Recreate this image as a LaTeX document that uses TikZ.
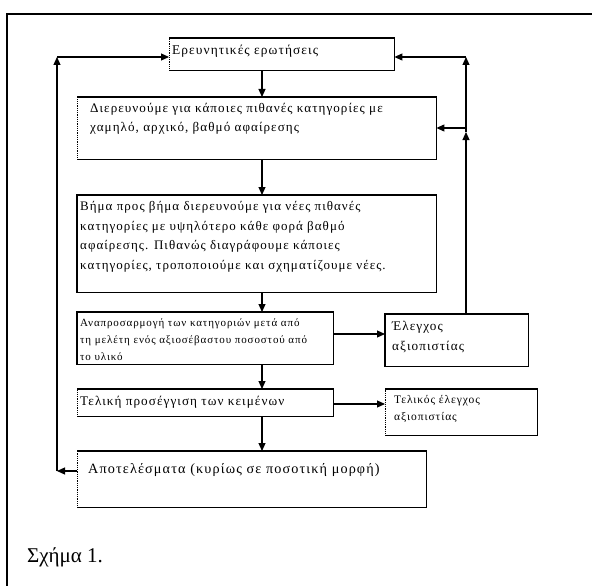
\documentclass[tikz,border=0pt]{standalone}
\usepackage{fontspec}
\setmainfont{Liberation Serif}
\newfontfamily\gr[LetterSpace=8]{Liberation Serif}
\usetikzlibrary{arrows.meta}
\tikzset{
  box/.style={draw=none, inner sep=0, anchor=north west},
  edge/.style={line width=1.1pt},
  arr/.style={line width=1.1pt, -{Triangle[length=8pt,width=7pt]}},
  txt/.style={inner sep=0, anchor=north west, align=left, font=\gr\fontsize{13}{21}\selectfont},
  smalltxt/.style={txt, font=\gr\fontsize{11}{17}\selectfont},
  bigtxt/.style={txt, font=\gr\fontsize{13.5}{20}\selectfont}
}
\newcommand{\solidbox}[1]{\draw[edge] (#1.north west) rectangle (#1.south east);}
\newcommand{\dotbox}[1]{\draw[edge] (#1.north west) -- (#1.north east) -- (#1.south east) -- (#1.south west); \draw[line width=0.8pt, densely dotted] (#1.south west) -- (#1.north west);}
\begin{document}
\begin{tikzpicture}[x=1pt,y=-1pt]
\useasboundingbox (0,0) rectangle (592,586);
% frame
\draw[line width=1.6pt] (7,586) -- (7,14) -- (592,14);
% boxes
\node[box, minimum width=225pt, minimum height=32pt] (q) at (169,38) {};
\node[box, minimum width=359pt, minimum height=62pt] (b2) at (77,97) {};
\node[box, minimum width=359pt, minimum height=97pt] (b3) at (77,195) {};
\node[box, minimum width=256pt, minimum height=52pt] (b4) at (77,312) {};
\node[box, minimum width=143pt, minimum height=52pt] (e1) at (385,314) {};
\node[box, minimum width=256pt, minimum height=27pt] (b5) at (77,389) {};
\node[box, minimum width=152pt, minimum height=46pt] (e2) at (385,389) {};
\node[box, minimum width=349pt, minimum height=56pt] (b6) at (77,451) {};
\dotbox{q}
\dotbox{b2}
\solidbox{b3}
\solidbox{b4}
\solidbox{e1}
\dotbox{b5}
\dotbox{e2}
\dotbox{b6}
% texts
\node[txt, font=\gr\fontsize{13.4}{20}\selectfont] (tq) at (172,45) {Ερευνητικές ερωτήσεις};
\node[txt, font=\gr\fontsize{13.1}{19}\selectfont] (t2) at (90,103) {Διερευνούμε για κάποιες πιθανές κατηγορίες με\\χαμηλό, αρχικό, βαθμό αφαίρεσης};
\node[txt, font=\gr\fontsize{13}{19.8}\selectfont] (t3) at (80,201) {Βήμα προς βήμα διερευνούμε για νέες πιθανές\\κατηγορίες με υψηλότερο κάθε φορά βαθμό\\αφαίρεσης. Πιθανώς διαγράφουμε κάποιες\\κατηγορίες, τροποποιούμε και σχηματίζουμε νέες.};
\node[smalltxt] (t4) at (80,319) {Αναπροσαρμογή των κατηγοριών μετά από\\τη μελέτη ενός αξιοσέβαστου ποσοστού από\\το υλικό};
\node[bigtxt, font=\gr\fontsize{13.2}{20}\selectfont] (te1) at (392,321) {Έλεγχος\\αξιοπιστίας};
\node[txt, font=\gr\fontsize{13.2}{20}\selectfont] (t5) at (80,396) {Τελική προσέγγιση των κειμένων};
\node[txt, font=\gr\fontsize{11.5}{17}\selectfont] (te2) at (394,395) {Τελικός έλεγχος\\αξιοπιστίας};
\node[txt, font=\gr\fontsize{14.2}{20}\selectfont] (t6) at (88,463) {Αποτελέσματα (κυρίως σε ποσοτική μορφή)};
\node[inner sep=0, anchor=west, font=\fontsize{21}{24}\selectfont] (cap) at (27,557) {Σχήμα 1.};
% connectors
\coordinate (cx) at (262,0);
\draw[arr] (q.south -| cx) -- (b2.north -| cx);
\draw[arr] (b2.south -| cx) -- (b3.north -| cx);
\draw[arr] (b3.south -| cx) -- (b4.north -| cx);
\draw[arr] (b4.south -| cx) -- (b5.north -| cx);
\draw[arr] (b5.south -| cx) -- (b6.north -| cx);
\coordinate (y1) at (0,334);
\coordinate (y2) at (0,404);
\draw[arr] (b4.east |- y1) -- (e1.west |- y1);
\draw[arr] (b5.east |- y2) -- (e2.west |- y2);
% left loop
\coordinate (L1) at (57,57);
\coordinate (L2) at (57,471);
\draw[arr] (b6.west |- L2) -- (L2);
\draw[arr] (L2) -- (L1);
\draw[arr] (L1) -- (q.west |- L1);
% right loop
\coordinate (R1) at (466,57);
\coordinate (R2) at (466,128);
\coordinate (R3) at (466,132);
\draw[arr] (e1.north -| R1) -- (R3);
\draw[edge] (R3) -- (R2);
\draw[arr] (R2) -- (R1);
\draw[arr] (R1) -- (q.east |- R1);
\draw[arr] (R2) -- (b2.east |- R2);
\end{tikzpicture}
\end{document}
